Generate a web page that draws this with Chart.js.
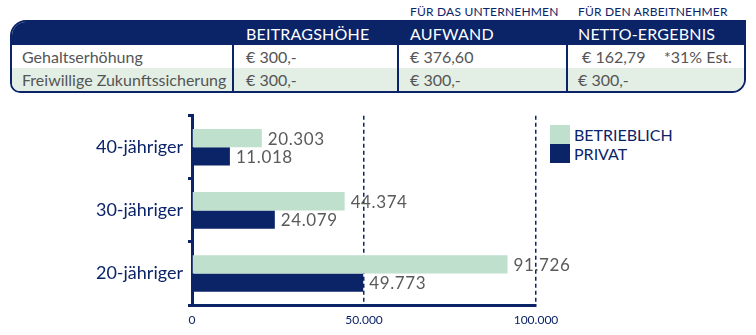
<!DOCTYPE html>
<html lang="de">
<head>
    <meta charset="UTF-8">
    <title>Gehaltserhöhung vs. Zukunftssicherung</title>
    <script src="https://cdn.jsdelivr.net/npm/chart.js"></script>
    <style>
        body {
            margin: 0;
            width: 756px;
            height: 335px;
            background: #fff;
            font-family: Lato, "Open Sans", sans-serif;
            position: relative;
            overflow: hidden;
        }
        .abs { position: absolute; white-space: nowrap; }
        .tbl {
            position: absolute;
            left: 10px;
            top: 20px;
            width: 736px;
            height: 73px;
            border: 2px solid #0b2468;
            border-radius: 16px 0 14px 10px;
            box-sizing: border-box;
            overflow: hidden;
        }
        .head {
            position: absolute; left: 0; top: 0; right: 0; height: 23px;
            background: #0b2468;
        }
        .row2 {
            position: absolute; left: 0; top: 46px; right: 0; bottom: 0;
            background: #e3efe5;
        }
        .vline {
            position: absolute; top: 23px; bottom: 0; width: 2px;
            background: #0b2468;
        }
        .cell { font-size: 16px; color: #555; line-height: 23px; }
        .hcell { font-size: 16px; color: #fff; line-height: 23px; letter-spacing: 0.2px; }
        .top { font-size: 12px; color: #0b2468; letter-spacing: 0.2px; }
        .legend-box { position: absolute; width: 20px; height: 19px; }
        .legend-txt { font-size: 16px; color: #0b2468; line-height: 19px; }
        #wrap { position: absolute; left: 0; top: 100px; width: 756px; height: 235px; }
    </style>
</head>
<body>
    <div class="abs top" style="left:410px; top:4px;">FÜR DAS UNTERNEHMEN</div>
    <div class="abs top" style="left:578px; top:4px;">FÜR DEN ARBEITNEHMER</div>
    <div class="tbl" id="tbl">
        <div class="head"></div>
        <div class="row2"></div>
    </div>

    <div class="legend-box" style="left:550px; top:125px; background:#bfe0cc;"></div>
    <div class="legend-box" style="left:550px; top:144px; background:#0b2468;"></div>
    <div class="abs legend-txt" style="left:574px; top:125px;">BETRIEBLICH</div>
    <div class="abs legend-txt" style="left:574px; top:144px;">PRIVAT</div>

    <div id="wrap"><canvas id="c"></canvas></div>

    <script>
        // table
        const colHeads = ['', 'BEITRAGSHÖHE', 'AUFWAND', 'NETTO-ERGEBNIS'];
        const rowGehalt = ['Gehaltserhöhung', '€ 300,-', '€ 376,60', '€ 162,79'];
        const rowZukunft = ['Freiwillige Zukunftssicherung', '€ 300,-', '€ 300,-', '€ 300,-'];
        const taxNote = '*31% Est.';

        // chart
        const ages = ['40-jähriger', '30-jähriger', '20-jähriger'];
        const betrieblich = [20303, 44374, 91726];
        const privat = [11018, 24079, 49773];
        const xTickLabels = { 0: '0', 50000: '50.000', 100000: '100.000' };

        const navy = '#0b2468';
        const green = '#bfe0cc';

        // build table cells
        const tbl = document.getElementById('tbl');
        const colX = [10, 234, 398, 566];
        const divX = [220, 385, 554];
        divX.forEach(x => {
            const d = document.createElement('div');
            d.className = 'vline';
            d.style.left = x + 'px';
            tbl.appendChild(d);
        });
        function addText(txt, x, y, cls) {
            const d = document.createElement('div');
            d.className = 'abs ' + cls;
            d.style.left = x + 'px';
            d.style.top = y + 'px';
            d.textContent = txt;
            tbl.appendChild(d);
        }
        colHeads.forEach((t, i) => addText(t, colX[i], 0, 'hcell'));
        rowGehalt.forEach((t, i) => addText(t, colX[i] + (i === 3 ? 4 : 0), 23, 'cell'));
        rowZukunft.forEach((t, i) => addText(t, colX[i], 46, 'cell'));
        addText(taxNote, 652, 23, 'cell');

        const valueLabels = {
            id: 'valueLabels',
            afterDatasetsDraw(chart) {
                const ctx = chart.ctx;
                ctx.save();
                ctx.font = '17px Lato';
                ctx.fillStyle = '#5a5a5a';
                ctx.textBaseline = 'middle';
                if ('letterSpacing' in ctx) ctx.letterSpacing = '0.6px';
                chart.data.datasets.forEach((ds, di) => {
                    chart.getDatasetMeta(di).data.forEach((bar, i) => {
                        const txt = ds.data[i].toLocaleString('de-DE');
                        ctx.fillText(txt, bar.x + 6, bar.y + 1);
                    });
                });
                ctx.restore();
            }
        };

        Chart.defaults.font.family = 'Lato';

        new Chart(document.getElementById('c'), {
            type: 'bar',
            data: {
                labels: ages,
                datasets: [
                    { label: 'BETRIEBLICH', data: betrieblich, backgroundColor: green },
                    { label: 'PRIVAT', data: privat, backgroundColor: navy }
                ]
            },
            options: {
                indexAxis: 'y',
                responsive: true,
                maintainAspectRatio: false,
                animation: false,
                categoryPercentage: 0.58,
                barPercentage: 1.0,
                layout: { padding: { top: 12, right: 220, left: 0, bottom: 0 } },
                plugins: {
                    legend: { display: false },
                    tooltip: { enabled: false }
                },
                scales: {
                    x: {
                        min: 0,
                        max: 100000,
                        z: 1,
                        afterFit: s => { s.height = 30; },
                        ticks: {
                            stepSize: 50000,
                            color: navy,
                            font: { size: 12 },
                            padding: 8,
                            callback: v => xTickLabels[v]
                        },
                        grid: {
                            color: c => (c.tick && c.tick.value === 0) ? 'transparent' : navy,
                            lineWidth: 1.5,
                            drawTicks: false
                        },
                        border: { color: navy, width: 3, dash: [4, 3] }
                    },
                    y: {
                        z: 1,
                        afterFit: s => { s.width = 192; },
                        ticks: {
                            color: navy,
                            font: { size: 18 },
                            padding: 5
                        },
                        grid: {
                            drawOnChartArea: false,
                            color: navy,
                            lineWidth: 3,
                            tickLength: 4
                        },
                        border: { color: navy, width: 3 }
                    }
                }
            },
            plugins: [valueLabels]
        });
    </script>
</body>
</html>
